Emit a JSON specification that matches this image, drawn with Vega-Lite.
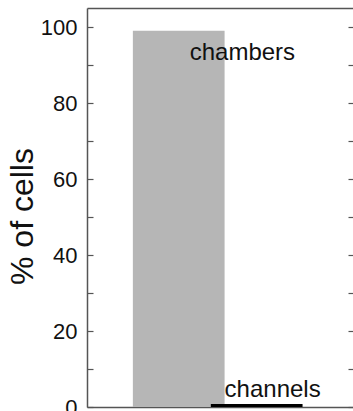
{
  "$schema": "https://vega.github.io/schema/vega-lite/v6.json",
  "autosize": "none",
  "width": 266,
  "height": 399,
  "padding": {"left": 87, "top": 8, "right": 0, "bottom": 4},
  "background": "white",
  "config": {
    "view": {"stroke": null},
    "font": "Liberation Sans",
    "axis": {"grid": false, "domainColor": "#555", "domainWidth": 1.5, "tickColor": "#555", "tickWidth": 1.2, "labelFont": "Liberation Sans", "titleFont": "Liberation Sans", "labelColor": "#111", "titleColor": "#111"}
  },
  "data": {
    "values": [
      {"group": "chambers", "start": 0.5, "end": 1.5, "pct": 99, "base": 0, "textX": 1.12, "textY": 91.4},
      {"group": "channels", "start": 1.35, "end": 2.35, "pct": 0.8, "base": 0, "textX": 1.5, "textY": 2.6}
    ]
  },
  "resolve": {"axis": {"x": "independent", "y": "independent"}},
  "layer": [
    {
      "mark": {"type": "rect"},
      "encoding": {
        "x": {"field": "start", "type": "quantitative", "scale": {"domain": [0, 2.9], "nice": false, "zero": false},
              "axis": {"orient": "bottom", "labels": false, "ticks": false, "title": null, "domain": true}},
        "x2": {"field": "end"},
        "y": {"field": "pct", "type": "quantitative", "scale": {"domain": [0, 105], "nice": false},
              "axis": {"orient": "left", "values": [0, 10, 20, 30, 40, 50, 60, 70, 80, 90, 100], "labelExpr": "datum.value % 20 === 0 ? datum.label : ''",
                       "tickSize": -6, "labelPadding": 16, "labelFontSize": 22, "title": "% of cells", "titleFontSize": 32, "titleFontWeight": "normal", "titlePadding": 1, "titleY": 208}},
        "y2": {"field": "base"},
        "color": {"field": "group", "type": "nominal", "scale": {"domain": ["chambers", "channels"], "range": ["#b6b6b6", "#000000"]}, "legend": null}
      }
    },
    {
      "mark": {"type": "text", "align": "left", "baseline": "alphabetic", "fontSize": 24, "color": "#111"},
      "encoding": {
        "x": {"field": "textX", "type": "quantitative",
              "axis": {"orient": "top", "labels": false, "ticks": false, "title": null, "domain": true}},
        "y": {"field": "textY", "type": "quantitative",
              "axis": {"orient": "right", "values": [0, 10, 20, 30, 40, 50, 60, 70, 80, 90, 100], "labels": false, "tickSize": -5, "domain": false, "title": null}},
        "text": {"field": "group"}
      }
    }
  ]
}
